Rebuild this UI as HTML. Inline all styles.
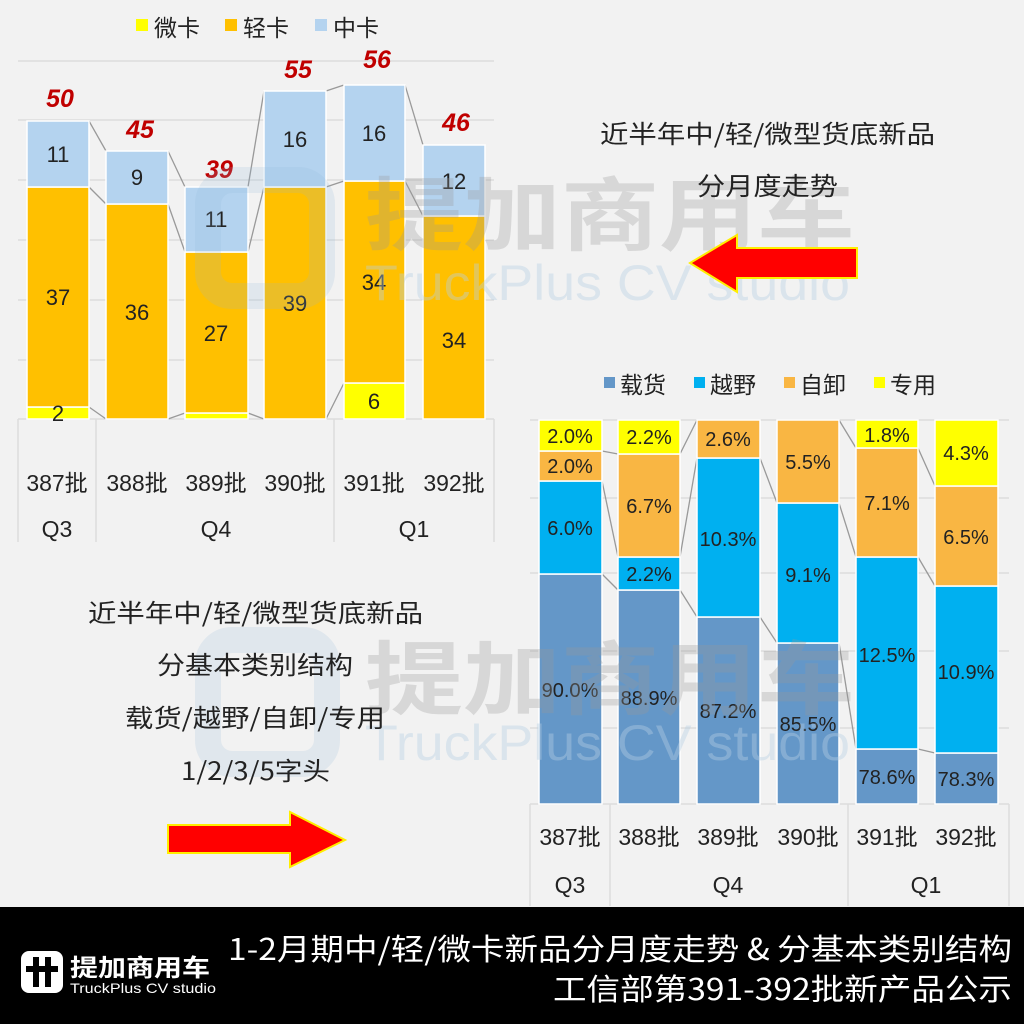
<!DOCTYPE html>
<html><head><meta charset="utf-8"><style>
html,body{margin:0;padding:0;background:#f2f2f2;}
svg{display:block;font-family:"Liberation Sans","Noto Sans CJK SC",sans-serif;}
</style></head><body>
<svg width="1024" height="1024" viewBox="0 0 1024 1024" xmlns="http://www.w3.org/2000/svg">
<rect width="1024" height="1024" fill="#f2f2f2"/>

<g stroke="#dcdcdc" stroke-width="1.5">
<line x1="18" y1="61" x2="494" y2="61"/><line x1="18" y1="120" x2="494" y2="120"/>
<line x1="18" y1="180" x2="494" y2="180"/><line x1="18" y1="240" x2="494" y2="240"/>
<line x1="18" y1="300" x2="494" y2="300"/><line x1="18" y1="360" x2="494" y2="360"/>
<line x1="18" y1="419" x2="494" y2="419"/>
<line x1="18" y1="419" x2="18" y2="542"/><line x1="96" y1="419" x2="96" y2="542"/>
<line x1="334" y1="419" x2="334" y2="542"/><line x1="494" y1="419" x2="494" y2="542"/>
</g>
<rect x="136" y="19" width="12" height="12" fill="#ffff00"/>
<text x="154" y="36" font-size="23" fill="#222">微卡</text>
<rect x="225" y="19" width="12" height="12" fill="#ffc000"/>
<text x="243" y="36" font-size="23" fill="#222">轻卡</text>
<rect x="315" y="19" width="12" height="12" fill="#b4d3ef"/>
<text x="333" y="36" font-size="23" fill="#222">中卡</text>

<g stroke="#999" stroke-width="1.3" fill="none">
<line x1="89" y1="121" x2="106" y2="151"/><line x1="89" y1="187" x2="106" y2="204"/><line x1="89" y1="407" x2="106" y2="419"/>
<line x1="168" y1="151" x2="185" y2="187"/><line x1="168" y1="204" x2="185" y2="252"/><line x1="168" y1="419" x2="185" y2="413"/>
<line x1="248" y1="187" x2="264" y2="91"/><line x1="248" y1="252" x2="264" y2="187"/><line x1="248" y1="413" x2="264" y2="419"/>
<line x1="326" y1="91" x2="344" y2="85"/><line x1="326" y1="187" x2="344" y2="181"/><line x1="326" y1="419" x2="344" y2="383"/>
<line x1="405" y1="85" x2="423" y2="145"/><line x1="405" y1="181" x2="423" y2="216"/>
</g>
<g stroke="#fff" stroke-width="1.5">
<rect x="27" y="407" width="62" height="12" fill="#ffff00"/>
<rect x="27" y="187" width="62" height="220" fill="#ffc000"/>
<rect x="27" y="121" width="62" height="66" fill="#b4d3ef"/>
<rect x="106" y="204" width="62" height="215" fill="#ffc000"/>
<rect x="106" y="151" width="62" height="53" fill="#b4d3ef"/>
<rect x="185" y="413" width="63" height="6" fill="#ffff00"/>
<rect x="185" y="252" width="63" height="161" fill="#ffc000"/>
<rect x="185" y="187" width="63" height="65" fill="#b4d3ef"/>
<rect x="264" y="187" width="62" height="232" fill="#ffc000"/>
<rect x="264" y="91" width="62" height="96" fill="#b4d3ef"/>
<rect x="344" y="383" width="61" height="36" fill="#ffff00"/>
<rect x="344" y="181" width="61" height="202" fill="#ffc000"/>
<rect x="344" y="85" width="61" height="96" fill="#b4d3ef"/>
<rect x="423" y="216" width="62" height="203" fill="#ffc000"/>
<rect x="423" y="145" width="62" height="71" fill="#b4d3ef"/>
</g>
<g font-size="22" fill="#222" text-anchor="middle">
<text x="58" y="162">11</text><text x="58" y="305">37</text><text x="58" y="421">2</text>
<text x="137" y="185">9</text><text x="137" y="320">36</text>
<text x="216" y="227">11</text><text x="216" y="341">27</text>
<text x="295" y="147">16</text><text x="295" y="311">39</text>
<text x="374" y="141">16</text><text x="374" y="290">34</text><text x="374" y="409">6</text>
<text x="454" y="189">12</text><text x="454" y="348">34</text>
</g>
<g font-size="25" font-weight="bold" font-style="italic" fill="#c00000" text-anchor="middle">
<text x="60" y="107">50</text><text x="140" y="138">45</text><text x="219" y="178">39</text>
<text x="298" y="78">55</text><text x="377" y="68">56</text><text x="456" y="131">46</text>
</g>
<g font-size="23" fill="#222" text-anchor="middle">
<text x="57" y="491">387批</text><text x="137" y="491">388批</text><text x="216" y="491">389批</text>
<text x="295" y="491">390批</text><text x="374" y="491">391批</text><text x="454" y="491">392批</text>
<text x="57" y="537">Q3</text><text x="216" y="537">Q4</text><text x="414" y="537">Q1</text>
</g>

<g stroke="#dcdcdc" stroke-width="1.5">
<line x1="530" y1="420" x2="1009" y2="420"/><line x1="530" y1="498" x2="1009" y2="498"/>
<line x1="530" y1="573" x2="1009" y2="573"/><line x1="530" y1="651" x2="1009" y2="651"/>
<line x1="530" y1="728" x2="1009" y2="728"/><line x1="530" y1="804" x2="1009" y2="804"/>
<line x1="530" y1="804" x2="530" y2="906"/><line x1="610" y1="804" x2="610" y2="906"/>
<line x1="848" y1="804" x2="848" y2="906"/><line x1="1009" y1="804" x2="1009" y2="906"/>
</g>
<rect x="604" y="377" width="11" height="11" fill="#6497c8"/>
<text x="620" y="393" font-size="23" fill="#222">载货</text>
<rect x="694" y="377" width="11" height="11" fill="#00b0f0"/>
<text x="710" y="393" font-size="23" fill="#222">越野</text>
<rect x="784" y="377" width="11" height="11" fill="#f9b643"/>
<text x="800" y="393" font-size="23" fill="#222">自卸</text>
<rect x="874" y="377" width="11" height="11" fill="#ffff00"/>
<text x="890" y="393" font-size="23" fill="#222">专用</text>

<g stroke="#999" stroke-width="1.3">
<line x1="602" y1="574" x2="618" y2="590"/><line x1="602" y1="481" x2="618" y2="557"/><line x1="602" y1="451" x2="618" y2="454"/>
<line x1="680" y1="590" x2="697" y2="617"/><line x1="680" y1="557" x2="697" y2="458"/><line x1="680" y1="454" x2="697" y2="420"/>
<line x1="760" y1="617" x2="777" y2="643"/><line x1="760" y1="458" x2="777" y2="503"/>
<line x1="839" y1="643" x2="856" y2="749"/><line x1="839" y1="503" x2="856" y2="557"/><line x1="839" y1="420" x2="856" y2="448"/>
<line x1="918" y1="749" x2="935" y2="753"/><line x1="918" y1="557" x2="935" y2="586"/><line x1="918" y1="448" x2="935" y2="486"/>
</g>
<g stroke="#fff" stroke-width="1.5">
<rect x="539" y="574" width="63" height="230" fill="#6497c8"/>
<rect x="539" y="481" width="63" height="93" fill="#00b0f0"/>
<rect x="539" y="451" width="63" height="30" fill="#f9b643"/>
<rect x="539" y="420" width="63" height="31" fill="#ffff00"/>
<rect x="618" y="590" width="62" height="214" fill="#6497c8"/>
<rect x="618" y="557" width="62" height="33" fill="#00b0f0"/>
<rect x="618" y="454" width="62" height="103" fill="#f9b643"/>
<rect x="618" y="420" width="62" height="34" fill="#ffff00"/>
<rect x="697" y="617" width="63" height="187" fill="#6497c8"/>
<rect x="697" y="458" width="63" height="159" fill="#00b0f0"/>
<rect x="697" y="420" width="63" height="38" fill="#f9b643"/>
<rect x="777" y="643" width="62" height="161" fill="#6497c8"/>
<rect x="777" y="503" width="62" height="140" fill="#00b0f0"/>
<rect x="777" y="420" width="62" height="83" fill="#f9b643"/>
<rect x="856" y="749" width="62" height="55" fill="#6497c8"/>
<rect x="856" y="557" width="62" height="192" fill="#00b0f0"/>
<rect x="856" y="448" width="62" height="109" fill="#f9b643"/>
<rect x="856" y="420" width="62" height="28" fill="#ffff00"/>
<rect x="935" y="753" width="63" height="51" fill="#6497c8"/>
<rect x="935" y="586" width="63" height="167" fill="#00b0f0"/>
<rect x="935" y="486" width="63" height="100" fill="#f9b643"/>
<rect x="935" y="420" width="63" height="66" fill="#ffff00"/>
</g>
<g font-size="20" fill="#222" text-anchor="middle">
<text x="570" y="443">2.0%</text><text x="570" y="473">2.0%</text><text x="570" y="535">6.0%</text><text x="570" y="697">90.0%</text>
<text x="649" y="444">2.2%</text><text x="649" y="513">6.7%</text><text x="649" y="581">2.2%</text><text x="649" y="705">88.9%</text>
<text x="728" y="446">2.6%</text><text x="728" y="546">10.3%</text><text x="728" y="718">87.2%</text>
<text x="808" y="469">5.5%</text><text x="808" y="582">9.1%</text><text x="808" y="731">85.5%</text>
<text x="887" y="442">1.8%</text><text x="887" y="510">7.1%</text><text x="887" y="662">12.5%</text><text x="887" y="784">78.6%</text>
<text x="966" y="460">4.3%</text><text x="966" y="544">6.5%</text><text x="966" y="679">10.9%</text><text x="966" y="786">78.3%</text>
</g>
<g font-size="23" fill="#222" text-anchor="middle">
<text x="570" y="845">387批</text><text x="649" y="845">388批</text><text x="728" y="845">389批</text>
<text x="808" y="845">390批</text><text x="887" y="845">391批</text><text x="966" y="845">392批</text>
<text x="570" y="893">Q3</text><text x="728" y="893">Q4</text><text x="926" y="893">Q1</text>
</g>

<!-- watermarks -->
<g opacity="0.18" fill="none" stroke="#8fb7d6" stroke-width="26">
<rect x="208" y="180" width="114" height="116" rx="24"/>
<rect x="208" y="640" width="119" height="124" rx="24"/>
</g>
<g fill="#9a9a9a" opacity="0.3" font-weight="bold" font-size="80" font-family="'Noto Sans CJK SC',sans-serif">
<text x="365" y="244" textLength="490" lengthAdjust="spacingAndGlyphs">提加商用车</text>
<text x="365" y="708" textLength="490" lengthAdjust="spacingAndGlyphs">提加商用车</text>
</g>
<g fill="#b7d0e4" opacity="0.4" font-size="50">
<text x="365" y="300" textLength="485" lengthAdjust="spacingAndGlyphs">TruckPlus CV studio</text>
<text x="365" y="760" textLength="485" lengthAdjust="spacingAndGlyphs">TruckPlus CV studio</text>
</g>

<g font-size="25" fill="#222" font-family="'Noto Sans CJK SC',sans-serif">
<text x="600" y="143" textLength="335" lengthAdjust="spacingAndGlyphs">近半年中/轻/微型货底新品</text>
<text x="697" y="195" textLength="141" lengthAdjust="spacingAndGlyphs">分月度走势</text>
<text x="88" y="622" textLength="335" lengthAdjust="spacingAndGlyphs">近半年中/轻/微型货底新品</text>
<text x="157" y="674" textLength="196" lengthAdjust="spacingAndGlyphs">分基本类别结构</text>
<text x="125" y="727" textLength="260" lengthAdjust="spacingAndGlyphs">载货/越野/自卸/专用</text>
<text x="181" y="780" textLength="149" lengthAdjust="spacingAndGlyphs">1/2/3/5字头</text>
</g>
<polygon points="857,248 737,248 737,235 690,263 737,292 737,278 857,278" fill="#ff0000" stroke="#ffee00" stroke-width="2"/>
<polygon points="168,825 290,825 290,812 345,840 290,867 290,853 168,853" fill="#ff0000" stroke="#ffee00" stroke-width="2"/>

<rect x="0" y="907" width="1024" height="117" fill="#000"/>
<rect x="21" y="951" width="42" height="42" rx="8" fill="#fff"/>
<g fill="#000"><rect x="33" y="957" width="6" height="30"/><rect x="45" y="957" width="6" height="30"/><rect x="26" y="966" width="32" height="6"/></g>
<text x="70" y="976" font-size="24" font-weight="bold" fill="#fff" font-family="'Noto Sans CJK SC',sans-serif" textLength="140" lengthAdjust="spacingAndGlyphs">提加商用车</text>
<text x="70" y="993" font-size="14" fill="#fff" textLength="146" lengthAdjust="spacingAndGlyphs">TruckPlus CV studio</text>
<g font-size="30" fill="#fff" font-family="'Noto Sans CJK SC',sans-serif">
<text x="228" y="960" textLength="784" lengthAdjust="spacingAndGlyphs">1-2月期中/轻/微卡新品分月度走势 &amp; 分基本类别结构</text>
<text x="553" y="1000" textLength="459" lengthAdjust="spacingAndGlyphs">工信部第391-392批新产品公示</text>
</g>
</svg>
</body></html>
